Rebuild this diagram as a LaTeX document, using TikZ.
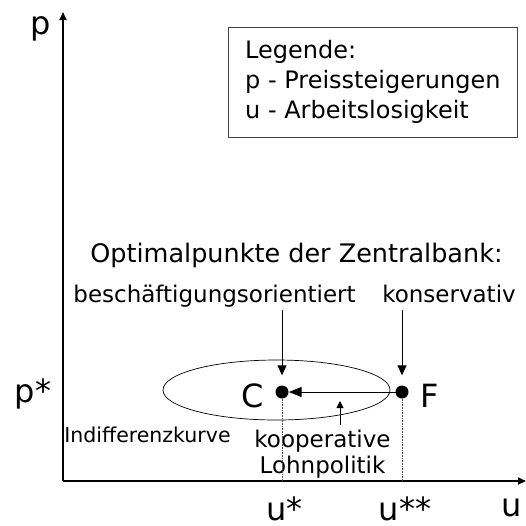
\documentclass[tikz,border=0pt]{standalone}
\usepackage{fontspec}
\setmainfont{DejaVu Sans}
\usetikzlibrary{arrows.meta}
\begin{document}
\begin{tikzpicture}[x=1pt,y=-1pt,
	axis/.style={line width=1.8pt,-{Triangle[length=8pt,width=7pt]}},
	pointer/.style={line width=1pt,-{Triangle[length=10pt,width=9pt]}},
	dot/.style={circle,fill=black,inner sep=0pt,minimum size=13pt},
	big/.style={font=\fontsize{32}{36}\selectfont,inner sep=0pt,anchor=base},
	small/.style={font=\fontsize{23}{30}\selectfont,inner sep=0pt,anchor=base},
	guide/.style={densely dotted,line width=0.6pt,black!70}]
	\useasboundingbox (0,0) rectangle (526,525);
	% axes
	\coordinate (O) at (63,481);
	\coordinate (ptop) at (63,12);
	\coordinate (uend) at (526,481);
	\draw[axis] (O) -- (ptop);
	\draw[axis] (O) -- (uend);
	\node[big] (plab) at (41,34) {p};
	\node[big] (ulab) at (512,516) {u};
	% legend
	\node[draw=black!75,line width=0.7pt,font=\fontsize{24}{30}\selectfont,align=left,anchor=north west,
		minimum width=289pt,minimum height=110pt,inner xsep=2pt,inner ysep=12.5pt]
		(legend) at (228,27) {Legende:\\p - Preissteigerungen\\u - Arbeitslosigkeit};
	% titles
	\node[small,font=\fontsize{25.5}{30}\selectfont] (title) at (296.5,262) {Optimalpunkte der Zentralbank:};
	\node[small] (besch) at (214.5,302) {beschäftigungsorientiert};
	\node[small] (kons) at (449,302) {konservativ};
	% indifference curve and points
	\draw[line width=0.7pt] (276.5,390) ellipse (113.5 and 30);
	\node[dot] (C) at (282,392) {};
	\node[dot] (F) at (402,392) {};
	\node[big] (Clab) at (252.5,407) {C};
	\node[big,anchor=base west] (Flab) at (420,407) {F};
	\coordinate (b1) at (282,310);
	\coordinate (k1) at (402,310);
	\draw[pointer,shorten >=10pt] (b1) -- (C.north);
	\draw[pointer,shorten >=10pt] (k1) -- (F.north);
	\draw[pointer,-{Triangle[length=13pt,width=10pt]}] (F.center) -- (C.east);
	% cooperative wage policy
	\node[font=\fontsize{23}{26}\selectfont,inner sep=0pt,align=center,anchor=north] (coop) at (322.5,430) {kooperative\\Lohnpolitik};
	\coordinate (c1) at (340,425);
	\coordinate (c2) at (340,401);
	\draw[line width=1pt,-{Triangle[length=7pt,width=7pt]}] (c1) -- (c2);
	\node[small,font=\fontsize{20.5}{26}\selectfont] (indiff) at (147.5,442) {Indifferenzkurve};
	% guide lines
	\draw[guide] (C) -- (C |- O);
	\draw[guide] (F) -- (F |- O);
	\node[big] (ustar) at (284.5,520) {u*};
	\node[big] (uss) at (405,520) {u**};
	\node[big] (pstar) at (33,402.5) {p*};
\end{tikzpicture}
\end{document}
